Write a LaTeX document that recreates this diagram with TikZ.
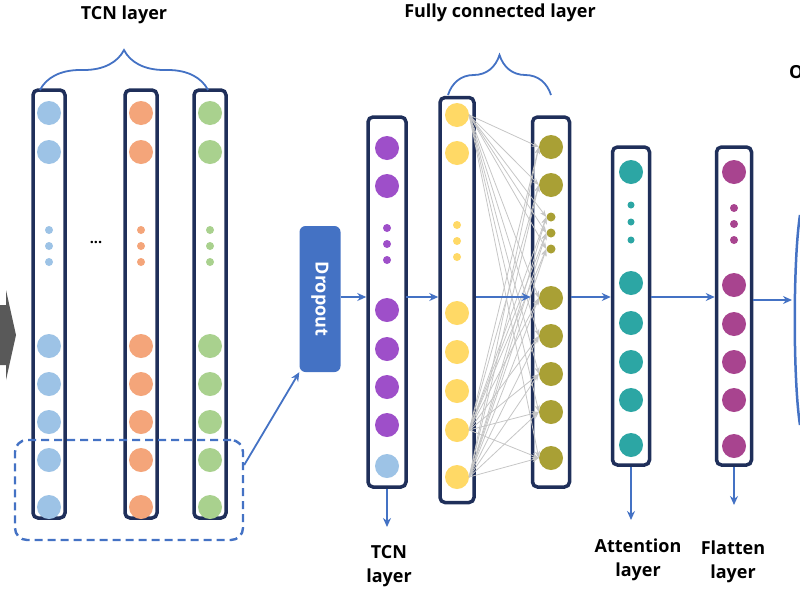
\documentclass[tikz,border=0pt]{standalone}
\usepackage{fontspec}
\setmainfont{Open Sans}
\usetikzlibrary{decorations.pathreplacing,arrows.meta}
\definecolor{frame}{HTML}{1F2F5A}
\definecolor{cblue}{HTML}{9DC3E6}
\definecolor{corange}{HTML}{F4A57A}
\definecolor{cgreen}{HTML}{A9D18E}
\definecolor{cpurple}{HTML}{9E4FC9}
\definecolor{cyellow}{HTML}{FFD966}
\definecolor{colive}{HTML}{A9A035}
\definecolor{cteal}{HTML}{2CA6A4}
\definecolor{cmag}{HTML}{A8448F}
\definecolor{abl}{HTML}{4472C4}
\tikzset{
 col/.style={draw=frame,line width=3.5pt,rounded corners=5pt,fill=white},
 big/.style={circle,inner sep=0pt,minimum size=24pt},
 dot/.style={circle,inner sep=0pt,minimum size=8pt},
 arr/.style={-{Stealth[length=9pt,width=8pt]},abl,line width=1.8pt},
 lbl/.style={font=\bfseries\fontsize{18}{24}\selectfont,align=center},
 fc/.style={-{Stealth[length=7pt]},gray!45,line width=0.8pt},
 br/.style={decorate,decoration={brace,amplitude=40pt},abl,line width=1.8pt}
}
\begin{document}
\begin{tikzpicture}[x=1pt,y=-1pt]
\useasboundingbox (0,0) rectangle (800,600);
% left partial arrow
\fill[gray!70!black] (0,305) -- (6,305) -- (6,290) -- (16,335) -- (6,380) -- (6,365) -- (0,365) -- cycle;
% TCN columns
\foreach \x/\c/\n in {49/cblue/a,141/corange/b,210/cgreen/c}{
 \node[col,minimum width=32pt,minimum height=428pt,inner sep=0pt] (r\n) at (\x,304) {};
 \foreach \y [count=\i] in {113,152,346,384,422,460,507} \node[big,fill=\c] (\n\i) at (\x,\y) {};
 \foreach \y [count=\i] in {230,246,262} \node[dot,fill=\c] (\n d\i) at (\x,\y) {};
}
\node[font=\bfseries\Large] (ell) at (96,242) {...};
\draw[br] (40,90) -- (208,90);
\node[lbl] (t1) at (124,15) {TCN layer};
\node[draw=abl,dash pattern=on 8pt off 5pt,line width=2.4pt,rounded corners=12pt,minimum width=228pt,minimum height=100pt] (dash) at (129,490) {};
% dropout
\node[fill=abl,rounded corners=6pt,minimum width=41pt,minimum height=146pt] (drop) at (320,299) {};
\node[rotate=-90,text=white,font=\bfseries\fontsize{18}{20}\selectfont] (dt) at (320,299) {Dropout};
\draw[arr] (dash.east) ++(0,-25) coordinate (de) -- (drop.south west);
% col4
\node[col,minimum width=38pt,minimum height=370pt] (r4) at (387,302) {};
\foreach \y [count=\i] in {148,186,310,349,387,425} \node[big,fill=cpurple] (p\i) at (387,\y) {};
\foreach \y [count=\i] in {228,244,260} \node[dot,fill=cpurple] (pd\i) at (387,\y) {};
\node[big,fill=cblue] (p7) at (387,466) {};
\draw[arr] (drop.east) ++(0,-2) coordinate (dx) -- (r4.west |- dx);
\coordinate (d4) at (387,527);
\draw[arr] (r4.south) -- (d4);
\node[lbl] (l4) at (389,566) {TCN\\layer};
% col5
\node[col,minimum width=34pt,minimum height=405pt] (r5) at (457,300) {};
\foreach \y [count=\i] in {115,153,313,352,391,430,477} \node[big,fill=cyellow] (y\i) at (457,\y) {};
\foreach \y [count=\i] in {225,241,257} \node[dot,fill=cyellow] (yd\i) at (457,\y) {};
\draw[arr] (406,297) coordinate (a45) -- (r5.west |- a45);
% col6
\node[col,minimum width=37pt,minimum height=370pt] (r6) at (551,302) {};
\foreach \y [count=\i] in {147,185,298,336,374,412,458} \node[big,fill=colive] (g\i) at (551,\y) {};
\foreach \y [count=\i] in {217,233,249} \node[dot,minimum size=9pt,fill=colive] (gd\i) at (551,\y) {};
\foreach \s in {y1,y6,y7}{
 \foreach \t in {g1,g2,g3,g4,g5,g6,g7,gd1,gd2,gd3} \draw[fc] (\s.east) -- (\t.west);
}
\draw[br] (448,95) -- (551,95);
\node[lbl] (t2) at (500,13) {Fully connected layer};
\draw[arr] (r5.east |- a45) -- (r6.west |- a45);
% col7
\node[col,minimum width=37pt,minimum height=318pt] (r7) at (631,306) {};
\foreach \y [count=\i] in {172,283,323,362,400,445} \node[big,fill=cteal] (e\i) at (631,\y) {};
\foreach \y [count=\i] in {205,222,240} \node[dot,minimum size=7pt,fill=cteal] (ed\i) at (631,\y) {};
\draw[arr] (r6.east |- a45) -- (r7.west |- a45);
\coordinate (d7) at (631,520);
\draw[arr] (r7.south) -- (d7);
\node[lbl] (l7) at (638,560) {Attention\\layer};
% col8
\node[col,minimum width=35pt,minimum height=318pt] (r8) at (734,306) {};
\foreach \y [count=\i] in {172,285,324,362,400,446} \node[big,fill=cmag] (f\i) at (734,\y) {};
\foreach \y [count=\i] in {208,224,240} \node[dot,minimum size=8pt,fill=cmag] (fd\i) at (734,\y) {};
\draw[arr] (r7.east |- a45) -- (r8.west |- a45);
\coordinate (d8) at (734,505);
\draw[arr] (r8.south) -- (d8);
\node[lbl] (l8) at (733,562) {Flatten\\layer};
\coordinate (o9) at (792,300);
\draw[arr] (r8.east |- o9) -- (o9);
% right partial
\draw[abl,line width=2.5pt] (800,215) .. controls (793,260) and (793,380) .. (800,425);
\node[lbl,anchor=west,inner sep=0pt] (t9) at (789,72) {O};
\end{tikzpicture}
\end{document}
